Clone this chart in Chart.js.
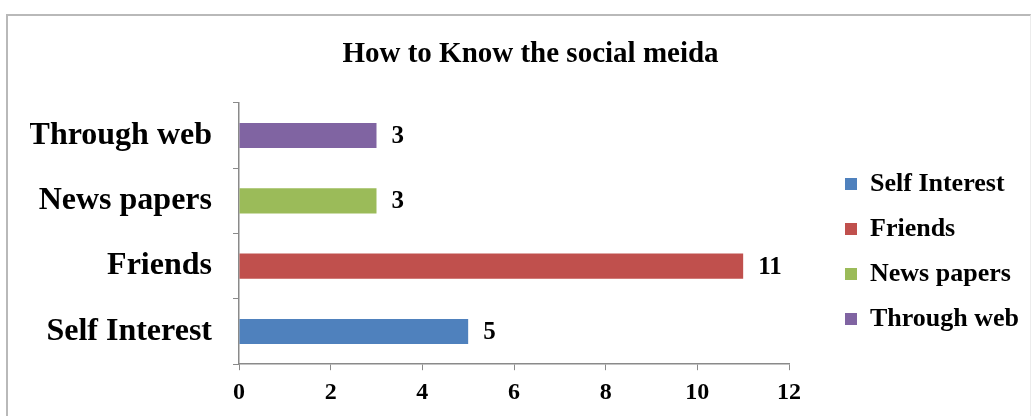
<!DOCTYPE html>
<html>
<head>
<meta charset="utf-8">
<title>How to Know the social meida</title>
<script src="https://cdn.jsdelivr.net/npm/chart.js@4/dist/chart.umd.min.js"></script>
<style>
  html, body { margin: 0; padding: 0; background: #fff; }
  #wrap { position: relative; width: 1031px; height: 416px; overflow: hidden; }
  #chart { position: absolute; left: 0; top: 0; }
  /* light frame round the chart, as pasted from a spreadsheet */
  #frame {
    position: absolute; left: 6px; top: 14px; width: 1022px; height: 420px;
    border-left: 2px solid #b9b9b9; border-top: 2px solid #b9b9b9; border-right: 1px solid #ececec;
    pointer-events: none;
  }
</style>
</head>
<body>
<div id="wrap">
  <canvas id="chart" width="1031" height="416"></canvas>
  <div id="frame"></div>
</div>
<script>
// categories listed bottom to top (y axis is reversed)
const categories = ['Self Interest', 'Friends', 'News papers', 'Through web'];
const values = [5, 11, 3, 3];
const barColors = ['#4F81BD', '#C0504D', '#9BBB59', '#8064A2'];
const xTicks = [0, 2, 4, 6, 8, 10, 12];

const SERIF = '"Liberation Serif", "Times New Roman", serif';
const AXIS_GRAY = '#8a8a8a';
const LEGEND_WIDTH = 242;

// legend sits to the right with a fixed width; items nudged right and down
const legendBox = {
  id: 'legendBox',
  beforeInit(chart) {
    const fit = chart.legend.fit;
    chart.legend.fit = function () {
      fit.call(this);
      this.width = LEGEND_WIDTH;
    };
  },
  afterLayout(chart) {
    const lg = chart.legend;
    lg.left += 37; lg.right += 37;
    lg.top += 35; lg.bottom += 35;
  }
};

// value printed just past the end of each bar
const barValueLabels = {
  id: 'barValueLabels',
  afterDatasetsDraw(chart) {
    const ctx = chart.ctx;
    const meta = chart.getDatasetMeta(0);
    ctx.save();
    ctx.font = 'bold 25px ' + SERIF;
    ctx.fillStyle = '#000';
    ctx.textAlign = 'left';
    ctx.textBaseline = 'middle';
    meta.data.forEach(function (bar, i) {
      ctx.fillText(String(values[i]), bar.x + 15, bar.y + 1);
    });
    ctx.restore();
  }
};

new Chart(document.getElementById('chart'), {
  type: 'bar',
  data: {
    labels: categories,
    datasets: [{
      data: values,
      backgroundColor: barColors,
      borderWidth: 0,
      categoryPercentage: 1,
      barPercentage: 0.385
    }]
  },
  options: {
    indexAxis: 'y',
    responsive: false,
    animation: false,
    layout: { padding: { left: 30, top: 18, right: 0, bottom: 1 } },
    plugins: {
      title: {
        display: true,
        text: 'How to Know the social meida',
        color: '#000',
        font: { family: SERIF, size: 29, weight: 'bold' },
        padding: { top: 19, bottom: 31 }
      },
      legend: {
        position: 'right',
        labels: {
          color: '#000',
          font: { family: SERIF, size: 26, weight: 'bold' },
          boxWidth: 12,
          boxHeight: 12,
          padding: 19,
          generateLabels: function () {
            return categories.map(function (c, i) {
              return { text: c, fillStyle: barColors[i], strokeStyle: barColors[i], lineWidth: 0, index: i };
            });
          }
        }
      },
      tooltip: { enabled: false }
    },
    scales: {
      x: {
        min: xTicks[0],
        max: xTicks[xTicks.length - 1],
        afterBuildTicks: function (scale) {
          scale.ticks = xTicks.map(function (v) { return { value: v }; });
        },
        grid: { drawOnChartArea: false, drawTicks: true, tickLength: 6, color: AXIS_GRAY },
        border: { display: true, color: AXIS_GRAY, width: 1.5 },
        ticks: { color: '#000', padding: 8, font: { family: SERIF, size: 24, weight: 'bold' } }
      },
      y: {
        reverse: true,
        afterFit: function (scale) { scale.width = 209; },
        grid: { drawOnChartArea: false, drawTicks: true, tickLength: 6, color: AXIS_GRAY, offset: true },
        border: { display: true, color: AXIS_GRAY, width: 1.5 },
        ticks: { color: '#000', padding: 21, font: { family: SERIF, size: 32, weight: 'bold' } }
      }
    }
  },
  plugins: [legendBox, barValueLabels]
});
</script>
</body>
</html>
